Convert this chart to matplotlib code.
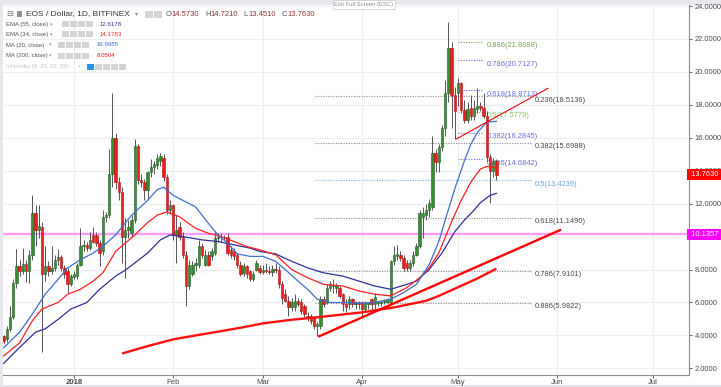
import matplotlib
matplotlib.use("Agg")
import matplotlib.pyplot as plt
import matplotlib.dates as mdates
import matplotlib.transforms as mtransforms
from matplotlib.patches import Rectangle
from matplotlib.ticker import FuncFormatter
import numpy as np
import pandas as pd

W, H = 721, 387
DPI = 100

plt.rcParams["font.family"] = ["Liberation Sans", "DejaVu Sans"]

# ---------------------------------------
# Data
# ---------------------------------------

start_day = "2017-12-10"

opens = [
    3.94, 3.76, 4.36, 5.1, 7.2, 8.2, 7.9, 8.36, 7.9, 8.9,
    11.45, 10.4, 10.6, 7.7, 8.2, 7.9, 8.1, 8.6, 8.75, 8.1,
    7.9, 7.1, 7.55, 7.6, 8.3, 9.4, 9.5, 9.3, 10.1, 10.1,
    9.6, 9.1, 11.2, 11.3, 13.8, 16.0, 13.3, 12.7, 10.0, 10.4,
    10.2, 11.0, 15.5, 13.45, 13.3, 12.85, 13.9, 14.25, 14.36, 14.6,
    14.8, 13.6, 11.6, 11.9, 10.1, 10.6, 10.0, 8.9, 7.0, 7.7,
    8.3, 8.3, 9.45, 8.3, 8.9, 8.8, 9.0, 9.9, 9.95, 10.0,
    10.0, 9.2, 9.1, 8.9, 8.3, 7.8, 8.2, 7.9, 7.45, 8.0,
    8.1, 7.85, 8.0, 7.9, 7.85, 8.05, 8.0, 7.1, 6.5, 6.1,
    5.7, 5.7, 6.1, 6.0, 5.8, 5.2, 5.15, 5.1, 4.55, 4.55,
    6.2, 6.0, 6.9, 7.0, 6.9, 6.9, 6.5, 5.9, 5.9, 6.2,
    5.9, 6.0, 6.0, 5.6, 5.9, 6.2, 5.9, 5.95, 5.95, 6.0,
    6.05, 6.0, 8.5, 8.8, 8.9, 8.7, 8.4, 8.1, 8.4, 8.9,
    9.45, 11.2, 11.3, 11.6, 11.8, 15.1, 14.5, 15.45, 16.6, 18.7,
    21.45, 18.6, 18.7, 19.3, 17.7, 17.1, 17.8, 17.3, 17.75, 17.95,
    17.8, 17.3, 14.85, 14.0, 14.573,
]
highs = [
    4.05, 4.6, 5.76, 7.4, 9.27, 8.6, 9.33, 8.6, 9.2, 12.5,
    11.9, 11.9, 10.9, 9.4, 8.5, 9.4, 8.9, 9.27, 8.9, 8.3,
    8.1, 7.7, 7.9, 8.4, 10.5, 9.8, 9.7, 10.3, 10.6, 10.3,
    9.8, 11.6, 11.5, 15.3, 18.7, 16.3, 13.6, 13.0, 11.15, 11.0,
    11.3, 15.9, 15.6, 13.8, 13.5, 14.0, 14.7, 14.6, 15.0, 15.1,
    15.0, 13.8, 12.2, 12.0, 11.3, 10.9, 10.3, 9.1, 8.6, 8.5,
    8.7, 9.8, 9.6, 9.2, 9.1, 9.3, 10.3, 10.2, 10.2, 10.1,
    10.2, 9.4, 9.3, 9.0, 8.5, 8.4, 8.3, 8.0, 7.9, 8.6,
    8.3, 8.3, 8.4, 8.2, 8.3, 8.4, 8.2, 7.3, 6.8, 6.4,
    6.3, 6.5, 6.3, 6.2, 5.9, 5.4, 5.3, 5.2, 4.8, 6.4,
    6.4, 7.1, 7.3, 7.4, 7.2, 7.0, 6.6, 6.2, 6.4, 6.3,
    6.1, 6.1, 6.1, 6.1, 6.0, 6.3, 6.6, 6.1, 6.15, 6.2,
    6.3, 8.6, 9.4, 9.5, 9.1, 8.9, 8.6, 8.6, 9.1, 9.6,
    11.6, 11.8, 12.0, 12.3, 16.1, 15.3, 15.6, 16.8, 19.5, 23.0,
    21.8, 19.1, 19.6, 19.4, 18.3, 18.2, 18.6, 18.3, 19.0, 18.2,
    18.7, 17.6, 15.0, 14.8, 14.721,
]
lows = [
    3.55, 3.6, 4.24, 5.0, 6.9, 7.6, 7.7, 7.27, 7.2, 8.6,
    9.4, 9.9, 2.97, 7.3, 7.6, 7.7, 7.9, 8.3, 7.9, 7.5,
    6.6, 7.0, 7.4, 7.4, 8.2, 9.1, 9.1, 9.2, 9.6, 9.4,
    8.2, 8.9, 10.9, 11.1, 13.0, 12.9, 12.2, 8.4, 7.5, 9.9,
    10.0, 10.8, 13.2, 13.0, 12.2, 12.3, 13.6, 13.8, 14.1, 14.3,
    13.4, 11.4, 11.4, 9.8, 8.4, 9.8, 8.7, 5.76, 6.8, 7.6,
    7.9, 8.1, 8.7, 8.2, 8.2, 8.6, 8.9, 9.7, 9.7, 9.8,
    8.9, 8.7, 8.6, 8.1, 7.6, 7.6, 7.5, 7.3, 7.3, 7.9,
    7.7, 7.7, 7.8, 7.7, 7.6, 7.8, 6.9, 5.9, 6.0, 5.17,
    5.5, 5.5, 5.8, 5.3, 5.1, 4.9, 4.7, 4.4, 3.94, 4.4,
    5.7, 5.9, 6.7, 6.6, 6.6, 6.3, 5.5, 5.4, 5.6, 5.7,
    5.6, 5.6, 5.2, 5.5, 5.6, 5.4, 5.6, 5.8, 5.8, 5.9,
    5.95, 5.9, 8.3, 8.6, 8.5, 7.9, 7.9, 7.9, 8.2, 8.8,
    9.3, 9.9, 11.0, 11.2, 11.6, 13.9, 13.9, 15.2, 16.1, 18.2,
    16.6, 15.9, 17.9, 17.5, 16.9, 16.9, 17.1, 17.1, 17.5, 17.6,
    17.2, 14.6, 12.06, 13.6, 13.451,
]
closes = [
    3.64, 4.36, 5.1, 7.2, 8.2, 7.9, 8.36, 7.9, 8.9, 11.45,
    10.4, 10.65, 7.7, 8.2, 7.9, 8.1, 8.6, 8.75, 8.1, 7.7,
    7.1, 7.6, 7.75, 8.3, 9.4, 9.5, 9.3, 9.8, 9.65, 9.6,
    9.0, 11.2, 11.3, 13.8, 16.0, 13.3, 12.7, 10.0, 10.4, 10.6,
    11.0, 15.5, 13.45, 13.3, 12.85, 13.9, 14.25, 14.4, 14.8, 14.9,
    13.6, 11.6, 11.9, 10.1, 10.4, 10.0, 8.9, 7.0, 8.3, 8.3,
    8.4, 9.45, 8.9, 8.9, 8.3, 9.1, 9.9, 10.0, 10.0, 9.95,
    9.0, 8.9, 8.8, 8.3, 7.75, 8.2, 7.7, 7.45, 7.75, 8.4,
    7.85, 8.0, 7.9, 7.85, 8.05, 7.95, 7.1, 6.3, 6.1, 5.7,
    6.0, 6.1, 5.9, 5.5, 5.3, 5.05, 4.85, 4.55, 4.7, 6.2,
    5.9, 6.9, 7.1, 7.0, 7.05, 6.4, 5.9, 5.7, 6.2, 5.9,
    6.0, 5.9, 5.6, 5.95, 6.0, 5.9, 6.36, 6.05, 6.05, 6.1,
    6.2, 8.5, 8.9, 8.95, 8.7, 8.1, 8.1, 8.4, 8.9, 9.45,
    11.45, 11.45, 11.6, 12.06, 15.1, 14.5, 15.45, 16.6, 18.7, 21.45,
    18.6, 17.6, 19.3, 17.7, 17.1, 17.75, 17.3, 17.8, 17.95, 17.8,
    17.3, 14.85, 14.0, 14.57, 13.763,
]

# moving averages, sampled (day offset from start_day, value)
ma20_day = [0, 5, 9, 13, 17, 20, 24, 28, 31, 35, 40, 45, 48, 50, 53, 57, 60, 64, 67, 70,
            73, 77, 81, 85, 88, 92, 95, 98, 102, 106, 111, 116, 121, 125, 129, 133, 136,
            138, 141, 144, 146, 148, 151, 154]
ma20_val = [3.25, 4.2, 5.3, 6.5, 7.4, 8.1, 8.6, 9.0, 9.4, 10.1, 11.3, 12.2, 12.85, 13.0,
            12.5, 12.1, 11.8, 10.8, 10.1, 9.6, 8.95, 8.8, 8.8, 8.5, 8.0, 7.3, 6.8, 6.2,
            6.0, 6.0, 5.95, 6.0, 6.2, 6.6, 7.1, 8.3, 9.7, 11.0, 12.9, 14.6, 15.6, 16.3,
            16.95, 17.0]

ema34_day = [0, 5, 9, 12, 17, 20, 24, 28, 31, 35, 38, 41, 45, 48, 51, 55, 60, 64, 68, 72,
             76, 80, 85, 90, 95, 100, 106, 111, 116, 121, 126, 130, 133, 136, 140, 143,
             146, 149, 151, 154]
ema34_val = [2.75, 3.55, 4.9, 5.6, 6.0, 6.5, 6.8, 7.3, 7.8, 9.1, 9.6, 10.1, 10.85, 11.3,
             11.5, 11.2, 10.5, 10.2, 10.0, 9.7, 9.4, 9.2, 8.9, 8.0, 7.5, 7.1, 7.0, 6.7,
             6.5, 6.4, 6.9, 7.5, 8.1, 9.0, 10.9, 12.2, 13.3, 14.1, 14.26, 14.18]

ema55_day = [0, 5, 10, 13, 17, 21, 26, 30, 35, 38, 41, 45, 49, 52, 56, 62, 67, 72, 77, 80,
             85, 90, 95, 100, 106, 111, 116, 121, 126, 129, 133, 137, 141, 144, 147, 149,
             152, 154]
ema55_val = [2.3, 3.27, 4.2, 4.4, 4.97, 5.6, 6.0, 6.8, 7.6, 7.96, 8.4, 9.0, 9.8, 10.1,
             10.0, 9.8, 9.7, 9.5, 9.3, 9.1, 8.95, 8.5, 8.1, 7.8, 7.6, 7.3, 7.0, 6.8, 7.1,
             7.3, 8.0, 9.0, 10.3, 11.0, 11.6, 12.06, 12.5, 12.62]

ma200_day = [37, 45, 53, 60, 68, 75, 81, 90, 98, 105, 112, 117, 122, 127, 132, 136, 140,
             144, 148, 151, 154]
ma200_val = [2.9, 3.35, 3.76, 4.0, 4.26, 4.5, 4.73, 4.95, 5.1, 5.25, 5.4, 5.55, 5.7, 5.9,
             6.1, 6.4, 6.75, 7.1, 7.45, 7.75, 8.05]

# drawings
trend_day = [98.3, 174.2]
trend_val = [3.92, 10.42]
wedge_day = [141.4, 170.1]
wedge_val = [15.92, 19.0]
hline_val = 10.1357
last_close = 13.763

fib_big_ratio = ["0.236", "0.382", "0.5", "0.618", "0.786", "0.886"]
fib_big_val = [18.5136, 15.6988, 13.4239, 11.1490, 7.9101, 5.9822]
fib_big_col = ["#8a8a8a", "#8a8a8a", "#7fb0e6", "#8a8a8a", "#8a8a8a", "#8a8a8a"]
fib_big_txt = ["#4a4a4a", "#4a4a4a", "#6aa3e0", "#4a4a4a", "#4a4a4a", "#4a4a4a"]
fib_big_span = [97.3, 165.1]

fib_small_ratio = ["0.886", "0.786", "0.618", "0.5", "0.382", "0.236"]
fib_small_val = [21.8088, 20.7127, 18.8713, 17.5779, 16.2845, 14.6842]
fib_small_col = ["#77a852", "#6a6af2", "#6a6af2", "#8cc06a", "#6a6af2", "#6a6af2"]
fib_small_span = [142.0, 149.8]

legend_rows = ["EMA (55, close)", "EMA (34, close)", "MA (20, close)", "MA (200, close)"]
legend_vals = ["12.6178", "14.1783", "16.9985", "8.0504"]

C_MA20 = "#3f6fd1"
C_EMA34 = "#ff1f1f"
C_EMA55 = "#2f2f9c"
C_MA200 = "#ff1010"


def fx(p):
    return p / W


def fy(p):
    return 1 - p / H


fig = plt.figure(figsize=(W / DPI, H / DPI), dpi=DPI, facecolor="#e6e8ee")
fig.patches.append(Rectangle((fx(3), fy(385)), fx(718), 380 / H, transform=fig.transFigure,
                             fc="white", ec="none", zorder=-5))
ax = fig.add_axes([fx(3), fy(375), 686 / W, 370 / H])
ax.set_facecolor("white")

base = mdates.date2num(pd.Timestamp(start_day))
dates = pd.date_range(start_day, periods=len(closes), freq="D")
x = mdates.date2num(dates)

o, h, l, c = (np.array(a, dtype=float) for a in (opens, highs, lows, closes))
up = c >= o

# grid
ax.set_axisbelow(True)
ax.grid(True, color="#eeeeee", lw=0.8)

# fib retracements
ax.hlines(fib_big_val, base + fib_big_span[0], base + fib_big_span[1], colors=fib_big_col,
          linestyles=(0, (1, 1.3)), lw=0.8, zorder=1)
for r, v, tc in zip(fib_big_ratio, fib_big_val, fib_big_txt):
    ax.annotate(f"{r}({v:.4f})", (base + fib_big_span[1] + 0.9, v), xytext=(0, -2.8),
                textcoords="offset points", fontsize=5.4, color=tc, va="center", zorder=1)

ax.hlines(fib_small_val, base + fib_small_span[0], base + fib_small_span[1],
          colors=fib_small_col, linestyles=(0, (1, 1.3)), lw=0.8, zorder=1)
for r, v, col in zip(fib_small_ratio, fib_small_val, fib_small_col):
    ax.annotate(f"{r}({v:.4f})", (base + fib_small_span[1] + 1.3, v), xytext=(0, -2.8),
                textcoords="offset points", fontsize=5.4, color=col, va="center", zorder=1)

# horizontal level
ax.axhline(hline_val, color="#ff4dff", lw=1.7, alpha=0.55, zorder=2)

# candles
ax.vlines(x, l, h, color="#555555", lw=0.7, zorder=3)
ax.bar(x, np.maximum(np.abs(c - o), 0.05), bottom=np.minimum(o, c), width=0.72,
       color=["#3a8a3a" if u else "#ee1c1c" for u in up],
       edgecolor=["#1f5f1f" if u else "#b01010" for u in up],
       linewidth=0.4, zorder=4)

# moving averages
ax.plot(base + np.array(ma200_day), ma200_val, color=C_MA200, lw=1.7, zorder=5,
        solid_capstyle="butt")
ax.plot(base + np.array(ema55_day), ema55_val, color=C_EMA55, lw=0.9, zorder=5)
ax.plot(base + np.array(ema34_day), ema34_val, color=C_EMA34, lw=0.9, zorder=5)
ax.plot(base + np.array(ma20_day), ma20_val, color=C_MA20, lw=0.9, zorder=5)

# trend lines
ax.plot(base + np.array(trend_day), trend_val, color="#ff0000", lw=1.7, zorder=6,
        solid_capstyle="butt")
ax.plot(base + np.array(wedge_day), wedge_val, color="#ff0000", lw=0.8, zorder=6)

# axes
ax.set_xlim(base - 0.2, base + 214.2)
ax.set_ylim(1.596, 24.061)

ax.xaxis.set_major_locator(mdates.MonthLocator())
ax.xaxis.set_major_formatter(FuncFormatter(
    lambda v, p: "2018" if mdates.num2date(v).month == 1 else mdates.num2date(v).strftime("%b")))
ax.yaxis.tick_right()
ax.set_yticks(np.arange(2, 25, 2))
ax.yaxis.set_major_formatter(FuncFormatter(lambda v, p: f"{v:.4f}"))
ax.tick_params(axis="y", labelsize=5.4, colors="#4a4a4a", length=2.5, width=0.6, pad=1.5)
ax.tick_params(axis="x", labelsize=5.6, colors="#4a4a4a", length=2.0, width=0.6, pad=1.0)
for s in ("top", "left"):
    ax.spines[s].set_visible(False)
for s in ("right", "bottom"):
    ax.spines[s].set_color("#8c8c8c")
    ax.spines[s].set_linewidth(0.8)

fig.canvas.draw()
for lab in ax.get_xticklabels():
    lab.set_fontweight("bold" if lab.get_text() == "2018" else "normal")

# price tags on the right axis
blend = mtransforms.blended_transform_factory(ax.transAxes, ax.transData)
ax.text(1.0, last_close, " 13.7630 ", transform=blend, fontsize=5.4, color="white",
        va="center", ha="left", zorder=10, clip_on=False,
        bbox=dict(boxstyle="square,pad=0.28", fc="#ff0000", ec="none"))
ax.text(1.0, hline_val, " 10.1357 ", transform=blend, fontsize=5.4, color="white",
        va="center", ha="left", zorder=10, clip_on=False,
        bbox=dict(boxstyle="square,pad=0.28", fc="#ff00ff", ec="none"))

# ---------------------------------------
# Legend block (top left)
# ---------------------------------------


def icon_boxes(x0, y0, n, step=8, w=7, hgt=6, first=None):
    for k in range(n):
        col = first if (k == 0 and first) else "#d4d4d4"
        fig.patches.append(Rectangle((fx(x0 + k * step), fy(y0 + hgt / 2)), w / W, hgt / H,
                                     transform=fig.transFigure, fc=col, ec="none", zorder=20))


fig.text(fx(6), fy(14), "⊟", fontsize=6, color="#777777", va="center", family="DejaVu Sans")
fig.patches.append(Rectangle((fx(17), fy(17)), 5 / W, 6 / H, transform=fig.transFigure,
                             fc="#8f8f8f", ec="none", zorder=20))
fig.text(fx(26), fy(14), "EOS / Dollar, 1D, BITFINEX", fontsize=6.0, color="#333333",
         va="center")
fig.text(fx(135), fy(14), "▾", fontsize=4.5, color="#888888", va="center",
         family="DejaVu Sans")
icon_boxes(145, 14, 2, step=9, w=8, hgt=7)
for lx, letter, val in [(166, "O", "14.5730"), (205, "H", "14.7210"),
                        (243, "L", "13.4510"), (282, "C", "13.7630")]:
    fig.text(fx(lx), fy(14), letter, fontsize=5.5, color="#555555", va="center")
    fig.text(fx(lx + 5.5), fy(14), val, fontsize=5.5, color="#8b3333", va="center")

row_y = [24.3, 34.3, 45.0, 55.7]
val_col = [C_EMA55, C_EMA34, C_MA20, C_MA200]
for name, val, yy, vc in zip(legend_rows, legend_vals, row_y, val_col):
    ema = name.startswith("EMA")
    fig.text(fx(6), fy(yy), name, fontsize=4.3, color="#555555", va="center")
    fig.text(fx(50 if ema else 49), fy(yy), "▾", fontsize=3.6, color="#999999", va="center",
             family="DejaVu Sans")
    icon_boxes(62 if ema else 58, yy, 4)
    fig.text(fx(100 if ema else 97), fy(yy), val, fontsize=4.4, color=vc, va="center")

fig.text(fx(6), fy(66.7), "Ichimoku (9, 26, 52, 26)", fontsize=4.3, color="#c4c4c4",
         va="center")
fig.text(fx(78), fy(66.7), "▾", fontsize=3.6, color="#cccccc", va="center",
         family="DejaVu Sans")
icon_boxes(87, 66.7, 5, first="#2196f3")

# tooltip at the top
fig.text(fx(364), fy(4.5), "Exit Full Screen (ESC)", fontsize=4.2, color="#8c8c8c",
         ha="center", va="center", zorder=30,
         bbox=dict(boxstyle="square,pad=0.3", fc="white", ec="#d0d0d0", lw=0.6))

fig.savefig("out.png", dpi=DPI, facecolor=fig.get_facecolor())
